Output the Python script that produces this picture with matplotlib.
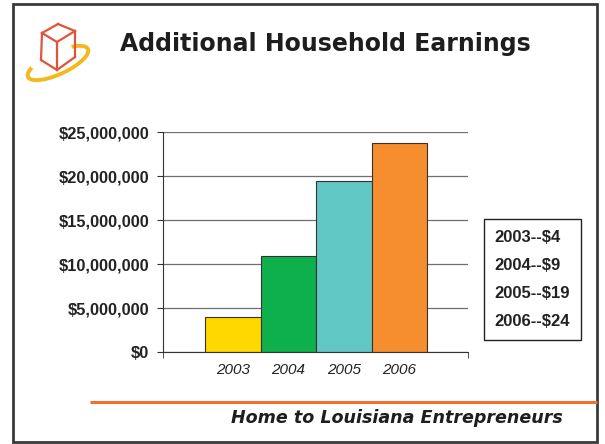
import matplotlib
matplotlib.use('Agg')
import matplotlib.pyplot as plt
from matplotlib.patches import Rectangle, Arc, Patch

years = ['2003', '2004', '2005', '2006']
earnings = [3950000, 10950000, 19400000, 23700000]
bar_colors = ['#FFD800', '#0DB04B', '#61C7C4', '#F68D2E']
legend_labels = ['2003--$4', '2004--$9', '2005--$19', '2006--$24']
yticks = [0, 5000000, 10000000, 15000000, 20000000, 25000000]

plt.rcParams['font.family'] = ['Liberation Sans', 'DejaVu Sans']

fig = plt.figure(figsize=(6.05, 4.44), dpi=100)

# background layer in pixel coordinates (slide frame, logo, footer)
bg = fig.add_axes([0, 0, 1, 1], zorder=0)
bg.set_xlim(0, 605)
bg.set_ylim(444, 0)
bg.axis('off')
bg.add_patch(Rectangle((13, 4), 584, 438, fill=False, edgecolor='#3a3a3a', lw=2))
bg.plot([90, 597], [402, 402], color='#F07030', lw=2.2, solid_capstyle='butt')

# logo: swoosh + cube
bg.add_patch(Arc((58, 63), 66, 22, angle=-25, theta1=-25, theta2=195,
                 color='#F2B81C', lw=2.8))
cube = [((58, 24), (42, 33)), ((58, 24), (75, 31)), ((42, 33), (57, 42)),
        ((75, 31), (57, 42)), ((57, 42), (57, 68)), ((42, 33), (41, 60)),
        ((75, 31), (75, 57)), ((41, 60), (57, 70)), ((75, 57), (57, 70))]
for (x0, y0), (x1, y1) in cube:
    bg.plot([x0, x1], [y0, y1], color='#E0553A', lw=1.6)

fig.text(325, 444 - 44, 'Additional Household Earnings', transform=None,
         fontsize=17, fontweight='bold', family='DejaVu Sans', color='#1e1e1e',
         ha='center', va='center')
fig.text(397, 444 - 418, 'Home to Louisiana Entrepreneurs', transform=None,
         fontsize=12.6, fontweight='bold', style='italic', family='DejaVu Sans',
         color='#1e1e1e', ha='center', va='center')

# chart
ax = fig.add_axes([163 / 605, 1 - 352 / 444, 305 / 605, 220 / 444], zorder=1)
ax.set_facecolor('none')
x = list(range(len(years)))
ax.bar(x, earnings, width=1.0, color=bar_colors, edgecolor='#333333', lw=0.8, zorder=3)
ax.set_xlim(-1.257, 4.238)
ax.set_ylim(0, 25000000)
ax.set_yticks(yticks)
ax.set_yticklabels(['${:,}'.format(v) for v in yticks])
ax.yaxis.grid(True, color='#6f6f6f', lw=0.9, zorder=0)
ax.set_xticks(x)
ax.set_xticklabels(years, fontstyle='italic', fontsize=11, color='#222222')
ax.set_xticks([-1.257, 4.238], minor=True)
ax.tick_params(axis='x', which='major', length=0, pad=8)
ax.tick_params(axis='x', which='minor', length=4, color='#333333')
ax.tick_params(axis='y', length=4, color='#333333', pad=6, labelsize=11.8)
for lab in ax.get_yticklabels():
    lab.set_fontweight('bold')
    lab.set_color('#222222')
for s in ['top', 'right']:
    ax.spines[s].set_visible(False)
ax.spines['left'].set_color('#333333')
ax.spines['bottom'].set_color('#333333')
ax.spines['bottom'].set_zorder(4)

handles = [Patch(visible=False) for _ in legend_labels]
leg = fig.legend(handles, legend_labels, loc='upper left',
                 bbox_to_anchor=(484 / 605, 1 - 219 / 444), borderaxespad=0,
                 handlelength=0, handletextpad=0, fancybox=False,
                 edgecolor='#222222', framealpha=1, borderpad=0.65,
                 labelspacing=0.78, prop={'weight': 'bold', 'size': 12})
leg.get_frame().set_linewidth(1.0)
for t in leg.get_texts():
    t.set_color('#222222')

fig.savefig('out.png', dpi=100)
